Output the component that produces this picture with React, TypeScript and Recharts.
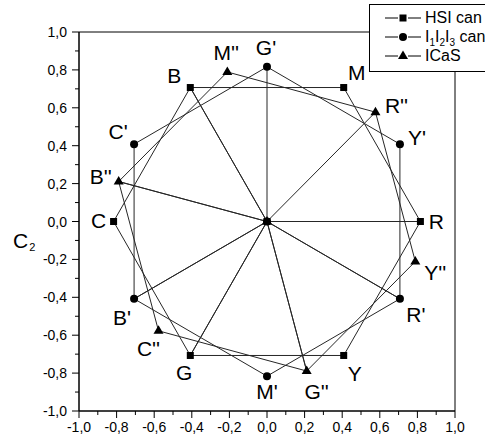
import * as React from "react";
import { ReferenceArea, Scatter, ScatterChart, XAxis, YAxis } from "recharts";

interface ColorPoint {
  name: string;
  c1: number;
  c2: number;
}

const ORIGIN: ColorPoint = { name: "O", c1: 0, c2: 0 };

// HSI canonical hues, 60° apart
const HSI_POINTS: ColorPoint[] = [
  { name: "R", c1: 0.816, c2: 0 },
  { name: "M", c1: 0.408, c2: 0.707 },
  { name: "B", c1: -0.408, c2: 0.707 },
  { name: "C", c1: -0.816, c2: 0 },
  { name: "G", c1: -0.408, c2: -0.707 },
  { name: "Y", c1: 0.408, c2: -0.707 },
];
const HSI_PATH = ["O", "R", "M", "B", "O", "B", "C", "G", "O", "G", "Y", "R"];

// I1I2I3 space, rotated 30° against HSI
const I123_POINTS: ColorPoint[] = [
  { name: "Y'", c1: 0.707, c2: 0.408 },
  { name: "G'", c1: 0, c2: 0.816 },
  { name: "C'", c1: -0.707, c2: 0.408 },
  { name: "B'", c1: -0.707, c2: -0.408 },
  { name: "M'", c1: 0, c2: -0.816 },
  { name: "R'", c1: 0.707, c2: -0.408 },
];
const I123_PATH = ["O", "G'", "C'", "B'", "O", "B'", "M'", "R'", "O", "R'", "Y'", "G'"];

// ICaS space, rotated 45° against HSI
const ICAS_POINTS: ColorPoint[] = [
  { name: "R''", c1: 0.577, c2: 0.577 },
  { name: "M''", c1: -0.211, c2: 0.789 },
  { name: "B''", c1: -0.789, c2: 0.211 },
  { name: "C''", c1: -0.577, c2: -0.577 },
  { name: "G''", c1: 0.211, c2: -0.789 },
  { name: "Y''", c1: 0.789, c2: -0.211 },
];
const ICAS_PATH = ["O", "R''", "M''", "B''", "O", "B''", "C''", "G''", "O", "G''", "Y''", "R''"];

const AXIS_TICKS = [
  -1, -0.9, -0.8, -0.7, -0.6, -0.5, -0.4, -0.3, -0.2, -0.1, 0, 0.1, 0.2, 0.3, 0.4, 0.5, 0.6, 0.7,
  0.8, 0.9, 1,
];

// where each hue letter sits relative to its marker (px)
const LABEL_NUDGE: Record<string, [number, number]> = {
  R: [16, 0],
  M: [13, -15],
  B: [-16, -12],
  C: [-15, -1],
  G: [-6, 17],
  Y: [11, 18],
  "Y'": [17, -7],
  "G'": [-1, -19],
  "C'": [-16, -13],
  "B'": [-12, 19],
  "M'": [0, 15],
  "R'": [16, 16],
  "R''": [21, -7],
  "M''": [-1, -19],
  "B''": [-18, -5],
  "C''": [-10, 18],
  "G''": [10, 20],
  "Y''": [20, 11],
};

type MarkerKind = "square" | "circle" | "triangle";

const FONT = "'Liberation Sans', Arial, Helvetica, sans-serif";
const INK = "#000";
const LINE = "#262626";

const SERIES: { key: string; marker: MarkerKind; points: ColorPoint[]; path: string[] }[] = [
  { key: "hsi", marker: "square", points: HSI_POINTS, path: HSI_PATH },
  { key: "i123", marker: "circle", points: I123_POINTS, path: I123_PATH },
  { key: "icas", marker: "triangle", points: ICAS_POINTS, path: ICAS_PATH },
];

function tracePath(points: ColorPoint[], path: string[]): ColorPoint[] {
  return path.map((n) => (n === "O" ? ORIGIN : (points.find((p) => p.name === n) ?? ORIGIN)));
}

function MarkerGlyph({ kind, cx, cy }: { kind: MarkerKind; cx: number; cy: number }) {
  if (kind === "square") return <rect x={cx - 3.5} y={cy - 3.5} width={7} height={7} fill={INK} />;
  if (kind === "circle") return <circle cx={cx} cy={cy} r={4} fill={INK} />;
  return (
    <polygon
      points={`${cx},${cy - 5.5} ${cx - 5},${cy + 3} ${cx + 5},${cy + 3}`}
      fill={INK}
    />
  );
}

function makeShape(kind: MarkerKind) {
  return (props: any) => {
    const { cx, cy, payload } = props;
    const nudge = LABEL_NUDGE[payload?.name as string];
    return (
      <g>
        <MarkerGlyph kind={kind} cx={cx} cy={cy} />
        {nudge && (
          <text
            x={cx + nudge[0]}
            y={cy + nudge[1] + 7.5}
            textAnchor="middle"
            fontSize={21}
            fontFamily={FONT}
            fill={INK}
          >
            {payload.name}
          </text>
        )}
      </g>
    );
  };
}

const isMajor = (v: number) => Math.round(v * 10) % 2 === 0;
const fmt = (v: number) => v.toFixed(1).replace(".", ",");

function XTick(props: any) {
  const { x, y, payload } = props;
  const v = payload.value as number;
  const major = isMajor(v);
  return (
    <g>
      <line x1={x} x2={x} y1={y} y2={y + (major ? 7 : 4)} stroke={INK} />
      {major && (
        <text x={x} y={y + 21} textAnchor="middle" fontSize={14} fontFamily={FONT} fill={INK}>
          {fmt(v)}
        </text>
      )}
    </g>
  );
}

function YTick(props: any) {
  const { x, y, payload } = props;
  const v = payload.value as number;
  const major = isMajor(v);
  return (
    <g>
      <line x1={x - (major ? 7 : 4)} x2={x} y1={y} y2={y} stroke={INK} />
      {major && (
        <text x={x - 12} y={y + 5} textAnchor="end" fontSize={14} fontFamily={FONT} fill={INK}>
          {fmt(v)}
        </text>
      )}
    </g>
  );
}

function YTitle(props: any) {
  const vb = props.viewBox ?? { x: 0, y: 32, width: 79, height: 379 };
  const cy = vb.y + vb.height / 2;
  return (
    <text x={vb.x + 13} y={cy + 26.5} fontFamily={FONT} fill={INK}>
      <tspan fontSize={21}>C</tspan>
      <tspan fontSize={11} dx={1} dy={3}>
        2
      </tspan>
    </text>
  );
}

function LegendSymbol({ kind }: { kind: MarkerKind }) {
  return (
    <svg width={36} height={20} style={{ position: "absolute", left: 15, top: 0 }}>
      <line x1={0} x2={13} y1={10} y2={10} stroke={INK} />
      <line x1={23} x2={36} y1={10} y2={10} stroke={INK} />
      <MarkerGlyph kind={kind} cx={18} cy={10} />
    </svg>
  );
}

const SUB: React.CSSProperties = { fontSize: 10, verticalAlign: "-4px", lineHeight: 0 };

const legendRows: { kind: MarkerKind; label: React.ReactNode }[] = [
  { kind: "square", label: "HSI can" },
  {
    kind: "circle",
    label: (
      <>
        I<span style={SUB}>1</span>I<span style={SUB}>2</span>I<span style={SUB}>3</span> can
      </>
    ),
  },
  { kind: "triangle", label: "ICaS" },
];

// framed key in the top right corner; it runs past the right edge of the figure
function LegendBox() {
  return (
    <div
      style={{
        position: "absolute",
        left: 369,
        top: 4,
        width: 200,
        height: 68,
        boxSizing: "border-box",
        border: `1px solid ${INK}`,
        background: "#fff",
        fontFamily: FONT,
        fontSize: 16,
        color: INK,
      }}
    >
      {legendRows.map((r, i) => (
        <div
          key={i}
          style={{ position: "absolute", left: 0, top: 3 + i * 19, height: 20, width: 190 }}
        >
          <LegendSymbol kind={r.kind} />
          <span
            style={{
              position: "absolute",
              left: 55,
              top: 0,
              lineHeight: "20px",
              whiteSpace: "nowrap",
            }}
          >
            {r.label}
          </span>
        </div>
      ))}
    </div>
  );
}

export default function App() {
  return (
    <div
      style={{
        position: "relative",
        width: 485,
        height: 436,
        overflow: "hidden",
        background: "#fff",
      }}
    >
      <style>{"body{margin:0}"}</style>
      <ScatterChart width={485} height={436} margin={{ top: 32, right: 30, bottom: 0, left: 0 }}>
        <XAxis
          type="number"
          dataKey="c1"
          domain={[-1, 1]}
          ticks={AXIS_TICKS}
          interval={0}
          tickSize={0}
          tickMargin={0}
          tick={<XTick />}
          axisLine={{ stroke: INK }}
          height={25}
          allowDataOverflow
        />
        <YAxis
          type="number"
          dataKey="c2"
          domain={[-1, 1]}
          ticks={AXIS_TICKS}
          interval={0}
          tickSize={0}
          tickMargin={0}
          tick={<YTick />}
          axisLine={{ stroke: INK }}
          width={79}
          label={{ content: <YTitle /> }}
          allowDataOverflow
        />
        <ReferenceArea x1={-1} x2={1} y1={-1} y2={1} fill="none" stroke={INK} strokeOpacity={1} />
        {SERIES.map((s) => (
          <Scatter
            key={`${s.key}-path`}
            data={tracePath(s.points, s.path)}
            line={{ stroke: LINE, strokeWidth: 1 }}
            shape={() => <g />}
            legendType="none"
            isAnimationActive={false}
          />
        ))}
        {SERIES.map((s) => (
          <Scatter
            key={`${s.key}-marks`}
            data={[ORIGIN, ...s.points]}
            shape={makeShape(s.marker)}
            isAnimationActive={false}
          />
        ))}
      </ScatterChart>
      <LegendBox />
    </div>
  );
}
